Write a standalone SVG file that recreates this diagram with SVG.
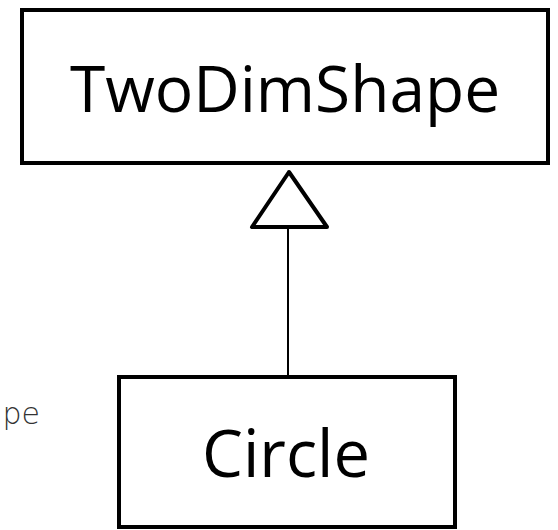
<svg xmlns="http://www.w3.org/2000/svg" width="558" height="530" viewBox="0 0 558 530">
<style>
.box{fill:#fff;stroke:#000;stroke-width:4}
.lbl{font-family:"Open Sans","Noto Sans",sans-serif;fill:#000;text-anchor:middle}
.side{font-family:"DejaVu Sans",sans-serif;font-weight:200;fill:#333}
</style>
<rect width="558" height="530" fill="#fff"/>
<text class="side" x="40" y="424" font-size="30" text-anchor="end">pe</text>
<g id="conn">
<line x1="288" y1="227" x2="288" y2="377" stroke="#000" stroke-width="2"/>
<polygon points="289,172 252,227 327,227" fill="#fff" stroke="#000" stroke-width="4" stroke-linejoin="round"/>
</g>
<g id="TwoDimShape">
<rect class="box" x="22" y="10" width="526" height="153"/>
<text class="lbl" x="285" y="112" font-size="64">TwoDimShape</text>
</g>
<g id="Circle">
<rect class="box" x="119" y="377" width="336" height="150"/>
<text class="lbl" x="286" y="477" font-size="65">Circle</text>
</g>
</svg>
